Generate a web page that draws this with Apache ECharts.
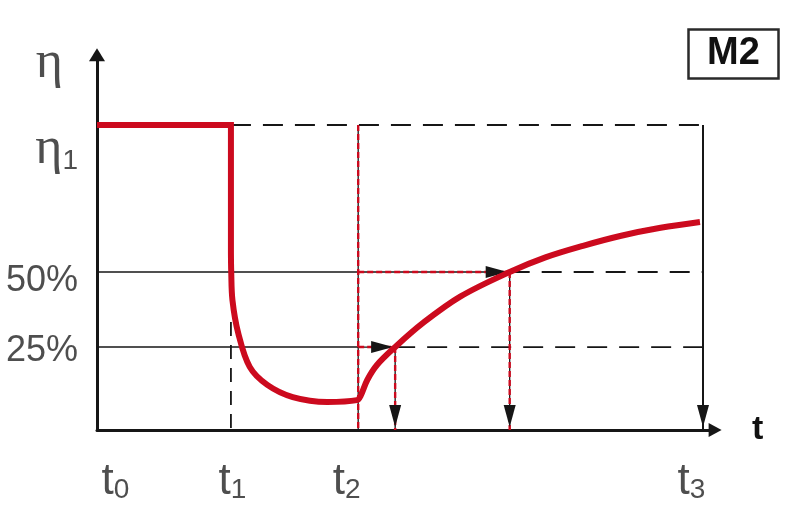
<!DOCTYPE html>
<html><head><meta charset="utf-8">
<script src="https://cdn.jsdelivr.net/npm/echarts@6/dist/echarts.min.js"></script>
<style>html,body{margin:0;padding:0;background:#fff}#c{width:800px;height:520px}</style>
</head><body><div id="c"></div>
<script>
// ---- data (schematic units: t in % of t3, eta in % of eta1) ----
const tickLabels = ['t0', 't1', 't2', 't3'];
const tickValues = [0, 22.1, 43.1, 100];
const levelLabels = ['η1', '50%', '25%'];
const levelValues = [100, 51.8, 27.2];
const plateauT = [0, 22.1, 22.1];
const plateauEta = [100, 100, 58];
const curveT = [22.1, 22.15, 22.35, 23.3, 25.2, 28.1, 32.3, 38.0, 42.9, 43.5, 44.6, 46.2, 49.2, 53.8, 60.0, 68.1, 74.0, 80.2, 86.5, 93.0, 99.5];
const curveEta = [58, 51.8, 42.6, 31.8, 20.7, 14.8, 10.8, 9.2, 9.8, 11.2, 16.4, 21.3, 27.2, 35.1, 43.8, 51.8, 56.6, 60.4, 63.7, 66.3, 68.2];
const crossingT = [49.2, 68.1];      // curve reaches 25 % and 50 %
const t1GuideTop = 35.4;
const boxLabel = 'M2';
const axisNameT = 't';
const axisNameEta = 'η';

// ---- build ----
const BLACK = '#161616', RED = '#cc0a1e', TEXT = '#222';
const [t0, t1, t2, t3] = tickValues;
const [lv1, lv50, lv25] = levelValues;
const [c25, c50] = crossingT;
const zip = (a, b) => a.map((v, i) => [v, b[i]]);

function seg(pts, color, width, type, z) {
  return { type: 'line', data: pts, symbol: 'none', silent: true, animation: false, z: z || 2,
    lineStyle: { color, width, type: type || 'solid', cap: 'butt', join: 'miter' } };
}
function redDashed(pts) {
  return [seg(pts, BLACK, 1.3, 'solid', 2), seg(pts, RED, 2.4, [6, 3], 3)];
}
const DASH = [20, 12];

const series = [
  seg([[t0, lv50], [t2, lv50]], BLACK, 1.6),
  seg([[t0, lv25], [t2, lv25]], BLACK, 1.6),
  seg([[t1, lv1], [t3, lv1]], BLACK, 1.8, DASH),
  seg([[c50, lv50], [t3, lv50]], BLACK, 1.8, DASH),
  seg([[c25, lv25], [t3, lv25]], BLACK, 1.8, DASH),
  seg([[t1, t1GuideTop], [t1, 0]], BLACK, 1.8, [14, 9]),
  ...redDashed([[t2, lv1], [t2, 0]]),
  ...redDashed([[t2, lv50], [c50, lv50]]),
  ...redDashed([[t2, lv25], [c25, lv25]]),
  ...redDashed([[c25, lv25], [c25, 0]]),
  ...redDashed([[c50, lv50], [c50, 0]]),
  seg([[t3, lv1], [t3, 0]], BLACK, 2),
  seg(zip(plateauT, plateauEta), RED, 6, 'solid', 5),
  { type: 'line', data: zip(curveT, curveEta), symbol: 'none', smooth: 0.35,
    silent: true, animation: false, z: 5, lineStyle: { color: RED, width: 6, cap: 'butt' } },
  { type: 'custom', silent: true, animation: false, z: 4, encode: { x: 0, y: 1 },
    data: [[c25, lv25, 0], [c50, lv50, 0], [c25, 0, 1], [c50, 0, 1], [t3, 0, 1]],
    renderItem(params, api) {
      const p = api.coord([api.value(0), api.value(1)]);
      const dir = api.value(2);
      const L = 22, W = 6;
      let pts;
      if (dir === 0) { const x = p[0] - 2; pts = [[x, p[1]], [x - L, p[1] - W], [x - L, p[1] + W]]; }
      else { const y = p[1] - 3; pts = [[p[0], y], [p[0] - W, y - L], [p[0] + W, y - L]]; }
      return { type: 'polygon', shape: { points: pts }, style: { fill: BLACK } };
    } }
];

// text labels anchored to data
const tNudge = [18.5, 1.5, -11.5, -11.5];
const labelData = [];
tickLabels.forEach((s, i) => labelData.push({ value: [tickValues[i], 0],
  label: { formatter: '{m|' + s[0] + '}{s|' + s.slice(1) + '}', offset: [tNudge[i], 52], align: 'center' } }));
const lvDy = [26, 9, 4.5];
levelLabels.forEach((s, i) => labelData.push({ value: [0, levelValues[i]],
  label: { formatter: s.startsWith('η') ? '{e|' + s[0] + '}{n|' + s.slice(1) + '}' : '{p|' + s + '}',
    offset: [-19, lvDy[i]], align: 'right' } }));
labelData.push({ value: [0, 123], label: { formatter: '{e|' + axisNameEta + '}', offset: [-34, 10], align: 'right' } });

series.push({ type: 'scatter', symbolSize: 0, silent: true, animation: false, z: 6, data: labelData,
  label: { show: true, position: 'inside', verticalAlign: 'middle', color: TEXT,
    rich: {
      m: { fontFamily: 'Liberation Sans', fontSize: 44, lineHeight: 44, verticalAlign: 'bottom', color: TEXT },
      s: { fontFamily: 'Liberation Sans', fontSize: 28, lineHeight: 26, verticalAlign: 'bottom', color: TEXT },
      e: { fontFamily: 'Liberation Serif', fontSize: 52, lineHeight: 48, verticalAlign: 'bottom', color: TEXT },
      n: { fontFamily: 'Liberation Sans', fontSize: 28, lineHeight: 30, verticalAlign: 'bottom', color: TEXT },
      p: { fontFamily: 'Liberation Sans', fontSize: 36, lineHeight: 36, color: TEXT }
    } } });

const chart = echarts.init(document.getElementById('c'), null, { renderer: 'canvas' });
chart.setOption({
  animation: false,
  backgroundColor: '#fff',
  title: { text: boxLabel, left: 688, top: 29, padding: [6, 19], borderColor: '#2a2a2a', borderWidth: 2.5,
    textStyle: { fontFamily: 'Liberation Sans', fontWeight: 'bold', fontSize: 38, lineHeight: 38, color: '#111' } },
  grid: { left: 97, top: 54.85, width: 618.12, height: 375.15, containLabel: false, outerBoundsMode: 'none' },
  xAxis: { type: 'value', min: 0, max: 102, name: axisNameT, nameLocation: 'end', nameGap: 37,
    nameTextStyle: { fontFamily: 'Liberation Sans', fontWeight: 'bold', fontSize: 34, color: '#111', padding: [0, 0, 12, 0] },
    axisLine: { show: true, onZero: false, symbol: ['none', 'triangle'], symbolSize: [14, 13], lineStyle: { color: BLACK, width: 3 } },
    axisTick: { show: false }, axisLabel: { show: false }, splitLine: { show: false } },
  yAxis: { type: 'value', min: 0, max: 123,
    axisLine: { show: true, onZero: false, symbol: ['none', 'triangle'], symbolSize: [16, 13], lineStyle: { color: BLACK, width: 3 } },
    axisTick: { show: false }, axisLabel: { show: false }, splitLine: { show: false } },
  series
});
</script></body></html>
